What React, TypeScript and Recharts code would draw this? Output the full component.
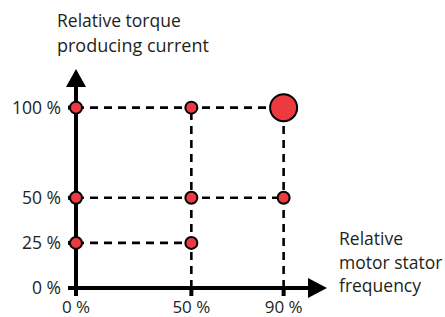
import { ScatterChart, Scatter, XAxis, YAxis, ReferenceLine, ReferenceDot } from 'recharts'

const freqTicks = [0, 50, 90]
const currentTicks = [0, 25, 50, 100]

// operating points (relative stator frequency %, relative torque current %)
const opFreq = [0, 50, 0, 50, 90, 0, 50]
const opCurrent = [100, 100, 50, 50, 50, 25, 25]

// rated point
const ratedFreq = [90]
const ratedCurrent = [100]

// dashed guides
const hGuideLevel = [100, 50, 25]
const hGuideEnd = [90, 90, 50]
const vGuideFreq = [50, 90]
const vGuideTop = [100, 100]

const opPoints = opFreq.map((f, i) => ({ f, c: opCurrent[i] }))
const ratedPoints = ratedFreq.map((f, i) => ({ f, c: ratedCurrent[i] }))

const FONT = '"Open Sans", sans-serif'
const RED = '#ec3a40'
const TXT = '#231f20'
const dash = { stroke: '#000', strokeWidth: 2.6, strokeDasharray: '8 6' }

const pct = (v: number) => `${v} %`

function Dot(r: number) {
  return (p: any) => (
    <circle cx={p.cx} cy={p.cy} r={r} fill={RED} stroke="#000" strokeWidth={2} />
  )
}

export default function App() {
  return (
    <div style={{ position: 'absolute', left: 0, top: 0, width: 445, height: 317, background: '#fff' }}>
      <ScatterChart width={445} height={317} margin={{ top: 86, right: 136, bottom: 0, left: 0 }}>
        <XAxis
          type="number"
          dataKey="f"
          domain={[0, 101]}
          ticks={freqTicks}
          tickFormatter={pct}
          height={29}
          axisLine={{ stroke: '#000', strokeWidth: 4 }}
          tickLine={{ stroke: '#000', strokeWidth: 4 }}
          tickSize={8}
          tickMargin={5}
          tick={{ fontSize: 17, fill: TXT, fontFamily: FONT }}
        />
        <YAxis
          type="number"
          dataKey="c"
          domain={[0, 112]}
          ticks={currentTicks}
          tickFormatter={pct}
          width={76}
          axisLine={{ stroke: '#000', strokeWidth: 4 }}
          tickLine={{ stroke: '#000', strokeWidth: 4 }}
          tickSize={8}
          tickMargin={7}
          tick={{ fontSize: 17.5, fill: TXT, fontFamily: FONT }}
        />
        {hGuideLevel.map((lvl, i) => (
          <ReferenceLine key={'h' + i} segment={[{ x: 0, y: lvl }, { x: hGuideEnd[i], y: lvl }]} {...dash} />
        ))}
        {vGuideFreq.map((f, i) => (
          <ReferenceLine key={'v' + i} segment={[{ x: f, y: 0 }, { x: f, y: vGuideTop[i] }]} {...dash} />
        ))}
        <ReferenceDot
          x={101}
          y={0}
          ifOverflow="visible"
          shape={(p: any) => (
            <polygon points={`${p.cx - 1},${p.cy - 10} ${p.cx + 18},${p.cy} ${p.cx - 1},${p.cy + 10}`} fill="#000" />
          )}
        />
        <ReferenceDot
          x={0}
          y={112}
          ifOverflow="visible"
          shape={(p: any) => (
            <polygon points={`${p.cx - 10},${p.cy + 1} ${p.cx},${p.cy - 17} ${p.cx + 10},${p.cy + 1}`} fill="#000" />
          )}
        />
        <Scatter data={opPoints} dataKey="c" shape={Dot(6)} isAnimationActive={false} />
        <Scatter data={ratedPoints} dataKey="c" shape={Dot(13.5)} isAnimationActive={false} />
      </ScatterChart>
      <svg
        width={445}
        height={317}
        style={{ position: 'absolute', left: 0, top: 0, pointerEvents: 'none' }}
        fontFamily={FONT}
        fill={TXT}
      >
        <text x={57} y={27} fontSize={17.5}>Relative torque</text>
        <text x={57} y={52} fontSize={18}>producing current</text>
        <text x={339} y={245} fontSize={17.5}>Relative</text>
        <text x={339} y={269} fontSize={17.5}>motor stator</text>
        <text x={339} y={292} fontSize={17.5}>frequency</text>
      </svg>
    </div>
  )
}
